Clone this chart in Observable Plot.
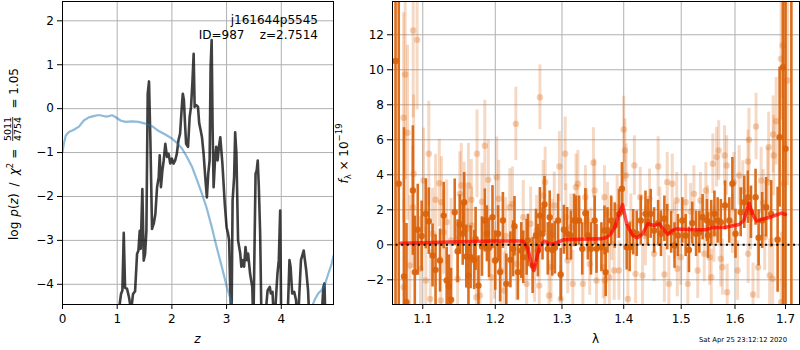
<!DOCTYPE html>
<html><head><meta charset="utf-8">
<script src="https://cdn.jsdelivr.net/npm/d3@7"></script>
<script src="https://cdn.jsdelivr.net/npm/@observablehq/plot@0.6"></script>
<style>
body{margin:0;background:#fff;}
#wrap{position:relative;width:800px;height:350px;overflow:hidden;background:#fff;}
#wrap svg{position:absolute;top:0;}
</style></head><body><div id="wrap"></div>
<script>
// ---------- left panel: redshift PDF ----------
const zTicks = [0, 1, 2, 3, 4];
const logpTicks = [-4, -3, -2, -1, 0, 1, 2];
const zBlack = [1.00,1.03,1.07,1.095,1.12,1.144,1.18,1.217,1.254,1.29,1.327,1.363,1.388,1.412,1.43,1.46,1.485,1.51,1.534,1.558,1.582,1.607,1.637,1.668,1.698,1.729,1.759,1.777,1.80,1.826,1.85,1.88,1.91,1.94,1.97,2.00,2.03,2.06,2.09,2.12,2.15,2.185,2.20,2.22,2.24,2.26,2.295,2.325,2.35,2.374,2.398,2.416,2.447,2.477,2.50,2.526,2.55,2.58,2.61,2.64,2.665,2.69,2.708,2.727,2.745,2.763,2.788,2.81,2.836,2.86,2.885,2.924,2.967,3.00,3.028,3.047,3.065,3.09,3.11,3.138,3.157,3.18,3.21,3.25,3.27,3.30,3.32,3.346,3.37,3.394,3.43,3.47,3.49,3.53,3.55,3.57,3.59,3.614,3.64,3.69,3.75,3.79,3.81,3.84,3.87,3.93,3.955,3.98,4.00,4.11,4.15,4.17,4.20,4.236,4.27,4.30,4.36,4.41,4.456,4.49,4.52,4.725,4.77,4.79,4.81,4.96];
const logpBlack = [-5,-4.6,-4.22,-4.14,-2.83,-4.08,-4.10,-4.30,-4.6,-4.22,-4.16,-3.31,-3.23,-2.78,-3.19,-1.83,-3.46,-3.31,-2.78,0.34,0.62,-0.72,-2.74,-2.62,-2.40,-1.79,-1.56,-1.06,-1.79,-1.41,-1.18,-0.80,-1.10,-1.03,-1.25,-1.14,-1.25,-1.18,-1.03,-0.72,-0.57,0.11,0.34,0.19,-0.34,-0.80,-0.87,-0.19,0.04,0.57,1.25,0.04,0.08,0.04,-0.34,-0.49,-0.65,-1.03,-1.56,-2.02,-1.48,-1.18,0.95,1.56,-0.49,-1.79,-1.18,-0.87,-1.18,-0.87,-0.65,-1.26,-2.17,-2.70,-2.85,-3.00,-4.06,-5,-2.09,-1.56,-0.54,-1.03,-3.00,-3.30,-3.60,-3.45,-3.60,-3.15,-3.45,-3.30,-3.76,-4.06,-5,-1.48,-1.41,-1.18,-1.79,-2.85,-5,-5,-4.14,-4.06,-4.21,-4.17,-5,-3.76,-3.45,-2.32,-5,-5,-3.45,-3.60,-4.21,-4.17,-4.36,-5,-3.45,-3.23,-3.68,-4.14,-5,-5,-4.06,-3.98,-5,-5];
const zBlue = [0,0.024,0.06,0.116,0.207,0.30,0.39,0.48,0.57,0.633,0.69,0.785,0.846,0.907,0.968,1.06,1.15,1.27,1.39,1.515,1.637,1.76,1.88,2.00,2.09,2.185,2.276,2.37,2.46,2.55,2.64,2.73,2.82,2.915,3.007,3.07,3.13,3.20,4.45,4.53,4.62,4.68,4.74,4.80,4.86,4.92,4.955];
const logpBlue = [-0.99,-0.80,-0.61,-0.53,-0.48,-0.41,-0.27,-0.20,-0.17,-0.15,-0.15,-0.18,-0.17,-0.15,-0.19,-0.27,-0.30,-0.29,-0.30,-0.34,-0.40,-0.51,-0.59,-0.68,-0.78,-0.91,-1.10,-1.33,-1.63,-1.94,-2.28,-2.70,-3.16,-3.61,-4.07,-4.33,-4.6,-5.0,-5.0,-4.6,-4.33,-4.20,-4.13,-3.99,-3.76,-3.54,-3.35];

// ---------- right panel: spectrum ----------
const lamTicks = [1.1, 1.2, 1.3, 1.4, 1.5, 1.6, 1.7];
const fTicks = [-2, 0, 2, 4, 6, 8, 10, 12];
const darkLam = [1.0646,1.0687,1.0755,1.0787,1.0870,1.0895,1.0934,1.0985,1.1040,1.1080,1.1130,1.1170,1.1230,1.1280,1.1320,1.1350,1.1380,1.1430,1.1470,1.1500,1.1540,1.1560,1.1590,1.1620,1.1650,1.1700,1.1720,1.1760,1.1810,1.1850,1.1880,1.1910,1.1960,1.2000,1.2040,1.2070,1.2110,1.2160,1.2220,1.2260,1.2280,1.2330,1.2380,1.2410,1.2460,1.2480,1.2550,1.2600,1.2630,1.2660,1.2700,1.2730,1.2780,1.2810,1.2850,1.2890,1.2940,1.2980,1.3030,1.3080,1.3140,1.3190,1.3220,1.3270,1.3320,1.3370,1.3410,1.3460,1.3520,1.3550,1.3630,1.3680,1.3700,1.3730,1.3790,1.3850,1.3920,1.3970,1.4050,1.4100,1.4160,1.4220,1.4290,1.4370,1.4410,1.4460,1.4520,1.4590,1.4640,1.4700,1.4750,1.4820,1.4880,1.4940,1.5020,1.5080,1.5140,1.5200,1.5270,1.5330,1.5390,1.5470,1.5490,1.5550,1.5610,1.5670,1.5730,1.5810,1.5890,1.5950,1.6010,1.6110,1.6180,1.6250,1.6310,1.6400,1.6460,1.6530,1.6610,1.6710,1.6840,1.6880,1.6950,1.7000,1.7120];
const darkFlux = [10.5,3.49,-1.81,-3.28,3.10,-1.56,0.86,0.5,1.77,1.35,-0.61,-1.43,-0.90,1.67,-2.04,-2.38,-3.14,1.86,-0.37,1.16,0.63,2.43,-0.67,-1.77,-0.71,-0.86,0.34,-2.33,-0.10,1.39,0.63,-0.17,1.58,-0.90,0.63,-1.56,1.39,-2.23,-0.86,-0.23,1.06,-1.56,-0.33,-0.71,-0.14,0.25,-1.18,0.53,-0.33,1.67,0.63,2.30,-0.23,1.58,-0.29,-0.17,1.39,-1.70,0.86,0.63,0.53,1.39,1.39,1.39,-0.23,1.81,0.53,-0.23,1.39,-0.23,-0.14,0.82,-1.56,0.82,1.39,1.10,1.77,3.20,-0.14,-0.14,0.72,0.63,1.39,1.77,1.29,1.77,0.82,1.24,0.63,1.49,1.01,0.72,-0.04,0.53,1.39,0.53,-0.29,1.24,0.63,0.72,1.58,1.39,0.53,1.24,1.77,1.39,1.29,2.25,1.39,3.49,0.63,1.86,2.43,2.72,1.86,2.72,0.40,1.39,2.15,1.77,0.29,6.15,10.15,5.49,20];
const darkErr = [30,30,8.5,4.5,3.7,3.2,2.6,2.0,2.0,1.9,1.8,2.0,1.8,1.9,1.9,1.8,1.8,1.9,1.8,1.7,1.8,1.7,1.8,1.7,1.8,1.7,1.8,1.7,1.7,1.8,1.6,1.7,1.8,1.7,1.6,1.7,1.6,1.7,1.6,1.6,1.7,1.6,1.6,1.5,1.6,1.5,1.6,1.5,1.5,1.6,1.5,1.6,1.5,1.5,1.5,1.5,1.5,1.5,1.4,1.5,1.4,1.5,1.4,1.4,1.5,1.4,1.4,1.5,1.4,1.4,1.4,1.4,1.4,1.3,1.4,1.3,1.4,1.5,1.3,1.4,1.3,1.3,1.4,1.3,1.3,1.4,1.3,1.3,1.3,1.3,1.3,1.2,1.3,1.2,1.3,1.2,1.3,1.2,1.3,1.2,1.3,1.2,1.3,1.3,1.3,1.3,1.3,1.4,1.3,1.5,1.4,1.4,1.5,1.5,1.5,1.6,1.6,1.6,1.7,1.9,3.0,4.0,30,30,30];
const lightLam = [1.0750,1.0751,1.0770,1.0800,1.0830,1.0870,1.0874,1.0880,1.0926,1.0970,1.1010,1.1040,1.1080,1.1100,1.1130,1.1170,1.1220,1.1240,1.1250,1.1280,1.1320,1.1380,1.1470,1.1500,1.1520,1.1560,1.1600,1.1610,1.1620,1.1660,1.1665,1.1730,1.1740,1.1780,1.1810,1.1850,1.1900,1.1940,1.1990,1.2020,1.2050,1.2080,1.2130,1.2150,1.2210,1.2250,1.2300,1.2310,1.2410,1.2460,1.2520,1.2580,1.2610,1.2650,1.2660,1.2710,1.2740,1.2800,1.2830,1.2850,1.2880,1.2960,1.2980,1.3050,1.3060,1.3090,1.3140,1.3170,1.3220,1.3250,1.3330,1.3370,1.3390,1.3440,1.3460,1.3500,1.3520,1.3550,1.3660,1.3680,1.3685,1.3730,1.3760,1.3800,1.3840,1.3890,1.3920,1.4000,1.4020,1.4040,1.4070,1.4120,1.4180,1.4200,1.4280,1.4320,1.4370,1.4440,1.4520,1.4590,1.4620,1.4700,1.4750,1.4780,1.4840,1.4880,1.4920,1.4930,1.4990,1.5080,1.5120,1.5170,1.5230,1.5300,1.5350,1.5420,1.5450,1.5480,1.5520,1.5550,1.5580,1.5600,1.5650,1.5690,1.5730,1.5760,1.5800,1.5840,1.5850,1.5950,1.5980,1.6050,1.6080,1.6150,1.6250,1.6255,1.6270,1.6300,1.6350,1.6410,1.6450,1.6510,1.6550,1.6580,1.6640,1.6660,1.6680,1.6740,1.6750,1.6760,1.6810,1.6910,1.6912,1.6940,1.6970,1.7040];
const lightFlux = [7.26,-2.42,9.73,6.40,-1.18,2.15,12.25,4.06,11.71,-1.37,3.67,-2.04,5.20,-3.09,0.63,2.57,3.52,-3.18,2.43,0.72,1.30,0.25,-1.94,2.91,3.39,2.42,0.90,-0.23,3.39,2.57,1.10,-2.99,5.20,-2.90,2.46,5.66,3.71,-1.85,-0.90,3.86,2.63,-1.47,-2.61,0.50,2.15,2.34,6.91,-1.09,1.58,-2.23,1.20,-1.28,0.82,-2.33,8.43,2.82,3.58,-2.90,-1.28,0.60,2.25,4.47,-3.09,5.20,1.58,-0.90,1.00,-2.23,3.29,3.49,-2.23,2.72,1.39,-1.09,0.30,4.69,3.10,-2.04,-1.28,2.72,-2.04,1.77,-1.85,0.90,-1.47,2.15,-1.47,6.59,5.39,3.96,-3.09,1.20,4.53,-1.66,2.72,-1.75,0.50,2.63,-0.51,4.47,1.60,-1.70,3.58,-2.23,3.49,0.80,2.53,-1.37,-0.71,2.43,-2.23,1.90,2.91,-1.47,2.53,-0.51,3.10,1.77,-0.71,-1.85,4.63,0.60,5.01,5.39,-0.80,-1.28,5.10,4.53,-2.71,1.20,3.58,-1.47,3.96,3.10,4.76,-0.51,6.00,1.50,-2.84,6.76,-1.28,3.67,2.40,0.43,3.58,5.58,-1.75,-1.94,6.30,5.10,7.06,10.63,-3.28,11.39,3.49,9.39];
const lightErr = [6,5,6,5,4,3.5,5,4.5,4,3,3,3,3,2.8,2.6,2.6,2.5,2.5,2.6,2.4,2.4,2.4,2.4,2.4,2.4,2.3,2.3,2.3,2.4,2.3,2.2,2.3,2.5,2.3,2.2,2.6,2.3,2.2,2.2,2.3,2.2,2.2,2.2,2.2,2.2,2.1,2.1,2.1,2.1,2.1,2.1,2.0,2.0,2.0,1.85,2.0,2.0,2.0,2.0,2.0,1.9,2.0,1.9,2.1,1.9,1.9,1.9,1.9,1.9,1.9,1.9,1.8,1.8,1.8,1.8,2.0,1.8,1.8,1.8,1.8,1.8,1.8,1.8,1.8,1.7,1.8,1.7,1.9,1.8,1.8,1.7,1.7,1.7,1.7,1.7,1.7,1.7,1.7,1.6,1.7,1.7,1.6,1.7,1.6,1.7,1.6,1.6,1.6,1.6,1.6,1.6,1.6,1.6,1.6,1.6,1.6,1.6,1.6,1.6,1.6,1.7,1.6,1.7,1.7,1.6,1.6,1.7,1.7,1.6,1.7,1.7,1.7,1.7,1.7,1.8,1.7,1.8,1.8,1.8,1.9,1.8,1.9,1.9,1.9,2.0,2.0,2.1,2.3,2.2,2.3,2.5,3.5,4,3,6,6];
const modelLam = [1.071,1.10,1.15,1.20,1.235,1.241,1.248,1.253,1.257,1.261,1.266,1.273,1.278,1.283,1.29,1.303,1.33,1.363,1.37,1.378,1.385,1.392,1.398,1.405,1.415,1.423,1.432,1.441,1.452,1.461,1.47,1.476,1.484,1.492,1.51,1.535,1.545,1.555,1.582,1.608,1.617,1.627,1.634,1.642,1.657,1.674,1.691,1.70];
const modelFlux = [0.09,0.12,0.17,0.22,0.22,0.21,-0.23,-1.09,-1.47,-0.80,-0.04,0.21,0.12,0.02,0.09,0.29,0.32,0.34,0.40,0.60,1.00,1.77,2.30,1.20,0.53,0.40,0.63,1.20,1.10,1.20,0.82,0.59,0.82,0.91,0.88,0.86,0.86,0.97,1.00,1.16,1.39,2.38,1.77,1.35,1.49,1.62,1.81,1.73];
const zeroLam = [1.0646, 1.74];
const zeroFlux = [0, 0];

// ---------- texts ----------
const objName = "j161644p5545";
const objInfo = "ID=987    z=2.7514";
const chiNum = "5011", chiDen = "4754", chiVal = "= 1.05";
const stamp = "Sat Apr 25 23:12:12 2020";

const ORANGE = "#d9620a";
const GRID = "#b0b0b0";
const style = {fontFamily: "DejaVu Sans", fontSize: "12px", color: "black", background: "transparent", overflow: "visible"};
const axisOpts = {tickSize: 5, label: null};

const leftPlot = Plot.plot({
  width: 340, height: 350,
  marginLeft: 62, marginRight: 7, marginTop: 1, marginBottom: 46,
  style,
  x: {...axisOpts, domain: [0, 4.955], ticks: zTicks, tickFormat: d3.format("d"), tickPadding: 4.5},
  y: {...axisOpts, domain: [-4.46, 2.44], ticks: logpTicks, tickFormat: d3.format("d"), tickPadding: 3.5},
  marks: [
    Plot.ruleX(zTicks, {x: d => d, stroke: GRID, strokeWidth: 1}),
    Plot.ruleY(logpTicks, {y: d => d, stroke: GRID, strokeWidth: 1}),
    Plot.line(zBlack, {x: zBlack, y: logpBlack, stroke: "black", strokeOpacity: 0.75, strokeWidth: 2.6, clip: true}),
    Plot.line(zBlue, {x: zBlue, y: logpBlue, stroke: "#1f77b4", strokeOpacity: 0.5, strokeWidth: 2.2, clip: true}),
    Plot.frame({stroke: "black", strokeWidth: 1})
  ]
});
leftPlot.style.left = "0px";

const lightLo = lightFlux.map((f, i) => f - lightErr[i]);
const lightHi = lightFlux.map((f, i) => f + lightErr[i]);
const darkLo = darkFlux.map((f, i) => f - darkErr[i]);
const darkHi = darkFlux.map((f, i) => f + darkErr[i]);

const rightPlot = Plot.plot({
  width: 460, height: 350,
  marginLeft: 52, marginRight: 1, marginTop: 1, marginBottom: 46,
  style,
  x: {...axisOpts, type: "log", domain: [1.06075, 1.72878], ticks: lamTicks, tickFormat: d3.format(".1f"), tickPadding: 4.5},
  y: {...axisOpts, domain: [-3.41, 13.9], ticks: fTicks, tickFormat: d3.format("d"), tickPadding: 3.5},
  marks: [
    Plot.ruleX(lamTicks, {x: d => d, stroke: GRID, strokeWidth: 1}),
    Plot.ruleY(fTicks, {y: d => d, stroke: GRID, strokeWidth: 1}),
    Plot.ruleX(lightLam, {x: lightLam, y1: lightLo, y2: lightHi, stroke: ORANGE, strokeOpacity: 0.24, strokeWidth: 3, clip: true}),
    Plot.dot(lightLam, {x: lightLam, y: lightFlux, r: 3.2, fill: ORANGE, fillOpacity: 0.3, stroke: "none", clip: true}),
    Plot.ruleX(darkLam, {x: darkLam, y1: darkLo, y2: darkHi, stroke: ORANGE, strokeOpacity: 0.92, strokeWidth: 2.6, clip: true}),
    Plot.dot(darkLam, {x: darkLam, y: darkFlux, r: 3.2, fill: ORANGE, fillOpacity: 0.92, stroke: "none", clip: true}),
    Plot.line(modelLam, {x: modelLam, y: modelFlux, stroke: "red", strokeOpacity: 0.7, strokeWidth: 3.5, clip: true}),
    Plot.line(zeroLam, {x: zeroLam, y: zeroFlux, stroke: "black", strokeWidth: 2, strokeDasharray: "2,3.6", strokeLinecap: "butt", clip: true}),
    Plot.frame({stroke: "black", strokeWidth: 1})
  ]
});
rightPlot.style.left = "340px";

const wrap = document.getElementById("wrap");
wrap.appendChild(leftPlot);
wrap.appendChild(rightPlot);

// ---------- overlay with labels ----------
const ov = d3.create("svg").attr("width", 800).attr("height", 350)
  .style("left", "0px").style("pointer-events", "none")
  .attr("font-family", "DejaVu Sans").attr("font-size", 12).attr("fill", "black");

ov.append("text").attr("x", 318).attr("y", 24).attr("text-anchor", "end").text(objName);
ov.append("text").attr("x", 318).attr("y", 38.5).attr("text-anchor", "end").style("white-space", "pre").text(objInfo);

ov.append("text").attr("x", 197.5).attr("y", 343).attr("text-anchor", "middle").attr("font-style", "italic").text("z");
ov.append("text").attr("x", 595.5).attr("y", 343).attr("text-anchor", "middle").text("λ");

// left y label (rotated; local x runs upward on the page)
const gl = ov.append("g").attr("transform", "translate(17.5,154) rotate(-90)");
const tA = gl.append("text").attr("x", -86).attr("y", 0);
tA.append("tspan").text("log");
tA.append("tspan").attr("dx", 5).attr("font-style", "italic").text("p");
tA.append("tspan").text("(");
tA.append("tspan").attr("font-style", "italic").text("z");
tA.append("tspan").text(")");
tA.append("tspan").attr("dx", 7).text("/");
tA.append("tspan").attr("dx", 7).attr("font-style", "italic").text("χ");
tA.append("tspan").attr("font-size", 8.5).attr("dy", -5).text("2");
tA.append("tspan").attr("dx", 4).attr("dy", 5).text("=");
gl.append("text").attr("x", 25).attr("y", -6.5).attr("text-anchor", "middle").attr("font-size", 9.5).text(chiNum);
gl.append("line").attr("x1", 13).attr("x2", 37).attr("y1", -4.8).attr("y2", -4.8).attr("stroke", "black").attr("stroke-width", 0.8);
gl.append("text").attr("x", 25).attr("y", 3).attr("text-anchor", "middle").attr("font-size", 9.5).text(chiDen);
gl.append("text").attr("x", 86).attr("y", 0).attr("text-anchor", "end").style("white-space", "pre").text(chiVal);

// right y label
const gr = ov.append("g").attr("transform", "translate(348,153.5) rotate(-90)");
const tB = gr.append("text").attr("text-anchor", "middle");
tB.append("tspan").attr("font-style", "italic").text("f");
tB.append("tspan").attr("font-size", 8.5).attr("dy", 2.5).text("λ");
tB.append("tspan").attr("dy", -2.5).style("white-space", "pre").text(" × 10");
tB.append("tspan").attr("font-size", 8.5).attr("dy", -6).text("−19");

ov.append("text").attr("x", 787).attr("y", 342).attr("text-anchor", "end").attr("font-size", 6.8).text(stamp);

wrap.appendChild(ov.node());
</script></body></html>
